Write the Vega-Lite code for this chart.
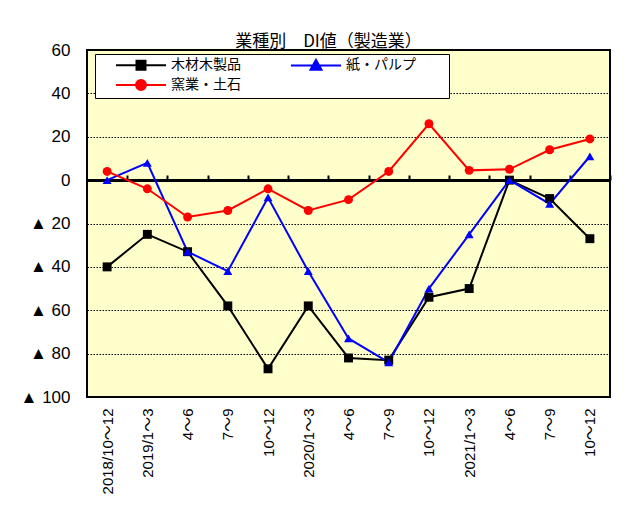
{
  "$schema": "https://vega.github.io/schema/vega-lite/v6.json",
  "width": 523,
  "height": 347,
  "autosize": {"type": "none"},
  "padding": {"left": 87, "top": 50, "right": 22, "bottom": 109},
  "background": "white",
  "title": {
    "text": "業種別　DI値（製造業）",
    "font": "Noto Sans CJK JP",
    "fontSize": 17,
    "fontWeight": "normal",
    "color": "black",
    "anchor": "middle",
    "dx": -20,
    "baseline": "alphabetic",
    "offset": -23
  },
  "data": {
    "values": [
      {"q": "2018/10～12", "s": "木材木製品", "v": -40},
      {"q": "2019/1～3", "s": "木材木製品", "v": -25},
      {"q": "2019/4～6", "s": "木材木製品", "v": -33},
      {"q": "2019/7～9", "s": "木材木製品", "v": -58},
      {"q": "2019/10～12", "s": "木材木製品", "v": -87},
      {"q": "2020/1～3", "s": "木材木製品", "v": -58},
      {"q": "2020/4～6", "s": "木材木製品", "v": -82},
      {"q": "2020/7～9", "s": "木材木製品", "v": -83},
      {"q": "2020/10～12", "s": "木材木製品", "v": -54},
      {"q": "2021/1～3", "s": "木材木製品", "v": -50},
      {"q": "2021/4～6", "s": "木材木製品", "v": 0},
      {"q": "2021/7～9", "s": "木材木製品", "v": -8.5},
      {"q": "2021/10～12", "s": "木材木製品", "v": -27},
      {"q": "2018/10～12", "s": "紙・パルプ", "v": 0},
      {"q": "2019/1～3", "s": "紙・パルプ", "v": 8},
      {"q": "2019/4～6", "s": "紙・パルプ", "v": -33},
      {"q": "2019/7～9", "s": "紙・パルプ", "v": -42},
      {"q": "2019/10～12", "s": "紙・パルプ", "v": -8},
      {"q": "2020/1～3", "s": "紙・パルプ", "v": -42},
      {"q": "2020/4～6", "s": "紙・パルプ", "v": -73},
      {"q": "2020/7～9", "s": "紙・パルプ", "v": -84},
      {"q": "2020/10～12", "s": "紙・パルプ", "v": -50},
      {"q": "2021/1～3", "s": "紙・パルプ", "v": -25},
      {"q": "2021/4～6", "s": "紙・パルプ", "v": 0},
      {"q": "2021/7～9", "s": "紙・パルプ", "v": -11},
      {"q": "2021/10～12", "s": "紙・パルプ", "v": 11},
      {"q": "2018/10～12", "s": "窯業・土石", "v": 4},
      {"q": "2019/1～3", "s": "窯業・土石", "v": -4},
      {"q": "2019/4～6", "s": "窯業・土石", "v": -17},
      {"q": "2019/7～9", "s": "窯業・土石", "v": -14},
      {"q": "2019/10～12", "s": "窯業・土石", "v": -4},
      {"q": "2020/1～3", "s": "窯業・土石", "v": -14},
      {"q": "2020/4～6", "s": "窯業・土石", "v": -9},
      {"q": "2020/7～9", "s": "窯業・土石", "v": 4},
      {"q": "2020/10～12", "s": "窯業・土石", "v": 26},
      {"q": "2021/1～3", "s": "窯業・土石", "v": 4.5},
      {"q": "2021/4～6", "s": "窯業・土石", "v": 5},
      {"q": "2021/7～9", "s": "窯業・土石", "v": 14},
      {"q": "2021/10～12", "s": "窯業・土石", "v": 19}
    ]
  },
  "layer": [
    {
      "mark": {"type": "rule", "color": "black", "strokeWidth": 2.5},
      "encoding": {"y": {"datum": 0, "type": "quantitative"}}
    },
    {
      "mark": {"type": "line", "strokeWidth": 2},
      "encoding": {
        "x": {
          "field": "q",
          "type": "ordinal",
          "sort": null,
          "axis": {
            "orient": "bottom",
            "title": null,
            "labelAngle": -90,
            "labelAlign": "right",
            "labelBaseline": "middle",
            "ticks": false,
            "domain": false,
            "labelPadding": 11,
            "labelFont": "Liberation Sans, Noto Sans CJK JP",
            "labelFontSize": 15,
            "labelColor": "black",
            "labelExpr": "(test(/\\/1～3$/, datum.value) || datum.value == '2018/10～12') ? datum.value : split(datum.value, '/')[1]"
          }
        },
        "y": {
          "field": "v",
          "type": "quantitative",
          "scale": {"domain": [-100, 60], "nice": false, "zero": false},
          "axis": {
            "title": null,
            "values": [-100, -80, -60, -40, -20, 0, 20, 40, 60],
            "ticks": false,
            "domain": false,
            "grid": true,
            "gridColor": "black",
            "gridDash": [1.5, 1.5],
            "gridWidth": 1,
            "labelPadding": 17,
            "labelFont": "Liberation Sans, Noto Sans CJK JP",
            "labelFontSize": 17,
            "labelColor": "black",
            "labelExpr": "datum.value < 0 ? '▲ ' + (-datum.value) : '' + datum.value"
          }
        },
        "color": {
          "field": "s",
          "type": "nominal",
          "scale": {"domain": ["木材木製品", "紙・パルプ", "窯業・土石"], "range": ["#000000", "#0000FF", "#FF0000"]},
          "legend": {
            "orient": "none",
            "legendX": 8,
            "legendY": 4,
            "columns": 2,
            "direction": "horizontal",
            "title": null,
            "fillColor": "white",
            "strokeColor": "black",
            "padding": 4,
            "labelFont": "Noto Sans CJK JP",
            "labelFontSize": 14,
            "labelColor": "black",
            "labelOffset": 58,
            "columnPadding": 33,
            "rowPadding": 2,
            "symbolSize": 100,
            "symbolStrokeWidth": 2,
            "encode": {
              "symbols": {
                "update": {
                  "shape": {"signal": "datum.value == '木材木製品' ? 'M2,0H12M6.1,-0.9H7.9V0.9H6.1Z' : datum.value == '紙・パルプ' ? 'M2,0H12M7,-1.1L8.1,0.85H5.9ZM32,0' : 'M2,0H12M8,0A1,1,0,1,1,6,0A1,1,0,1,1,8,0Z'"},
                  "fill": {"signal": "scale('color', datum.value)"},
                  "stroke": {"signal": "scale('color', datum.value)"},
                  "opacity": {"value": 1},
                  "fillOpacity": {"value": 1},
                  "strokeWidth": {"value": 2}
                }
              }
            }
          }
        }
      }
    },
    {
      "transform": [{"filter": "datum.s == '木材木製品'"}],
      "mark": {"type": "point", "shape": "square", "filled": true, "opacity": 1, "size": 80},
      "encoding": {
        "x": {
          "field": "q",
          "type": "ordinal",
          "sort": null,
          "axis": {
            "orient": "top",
            "offset": -130,
            "title": null,
            "labels": false,
            "ticks": true,
            "tickSize": 5,
            "tickWidth": 2,
            "tickColor": "black",
            "tickOffset": 20.1,
            "domain": false
          }
        },
        "y": {"field": "v", "type": "quantitative"},
        "color": {"field": "s", "type": "nominal"}
      }
    },
    {
      "transform": [{"filter": "datum.s == '紙・パルプ'"}],
      "mark": {"type": "point", "shape": "triangle-up", "filled": true, "opacity": 1, "size": 80},
      "encoding": {
        "x": {"field": "q", "type": "ordinal", "sort": null, "axis": null},
        "y": {"field": "v", "type": "quantitative"},
        "color": {"field": "s", "type": "nominal"}
      }
    },
    {
      "transform": [{"filter": "datum.s == '窯業・土石'"}],
      "mark": {"type": "point", "shape": "circle", "filled": true, "opacity": 1, "size": 80},
      "encoding": {
        "x": {"field": "q", "type": "ordinal", "sort": null, "axis": null},
        "y": {"field": "v", "type": "quantitative"},
        "color": {"field": "s", "type": "nominal"}
      }
    }
  ],
  "resolve": {"axis": {"x": "independent"}},
  "config": {
    "view": {"fill": "#FFFFCC", "stroke": "black", "strokeWidth": 2}
  }
}
